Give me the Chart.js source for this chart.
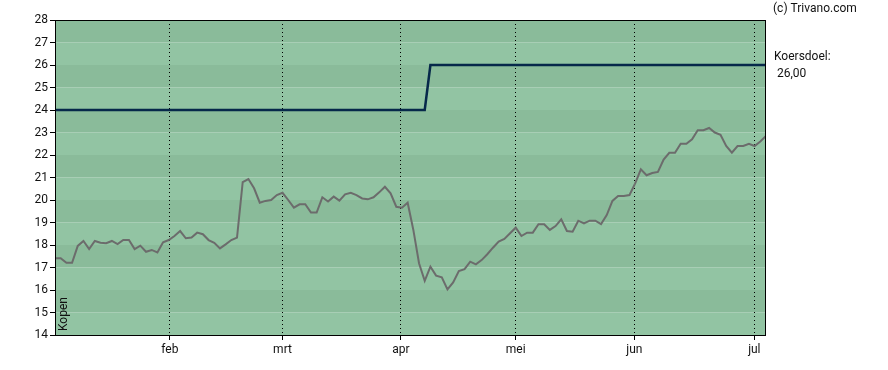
<!DOCTYPE html>
<html>
<head>
<meta charset="utf-8">
<script src="https://cdn.jsdelivr.net/npm/chart.js@4/dist/chart.umd.min.js"></script>
<style>
  body { margin: 0; background: #fff; }
  #wrap { position: relative; width: 888px; height: 370px; }
</style>
</head>
<body>
<div id="wrap"><canvas id="chart"></canvas></div>
<script>
// slotkoers per handelsdag
const prices = [
  17.41, 17.41, 17.21, 17.21, 17.96, 18.18, 17.82, 18.18, 18.10, 18.08,
  18.18, 18.04, 18.22, 18.22, 17.82, 17.97, 17.70, 17.78, 17.67, 18.12,
  18.22, 18.40, 18.62, 18.30, 18.33, 18.55, 18.48, 18.22, 18.10, 17.85,
  18.03, 18.22, 18.33, 20.79, 20.93, 20.52, 19.88, 19.96, 20.00, 20.22,
  20.32, 20.00, 19.66, 19.81, 19.81, 19.44, 19.44, 20.12, 19.93, 20.15,
  19.97, 20.25, 20.32, 20.22, 20.07, 20.03, 20.12, 20.34, 20.59, 20.30,
  19.70, 19.66, 19.88, 18.67, 17.19, 16.41, 17.04, 16.64, 16.56, 16.03,
  16.34, 16.84, 16.93, 17.26, 17.14, 17.33, 17.59, 17.88, 18.15, 18.27,
  18.52, 18.77, 18.40, 18.55, 18.55, 18.92, 18.92, 18.67, 18.84, 19.14,
  18.62, 18.59, 19.08, 18.96, 19.08, 19.08, 18.93, 19.33, 19.96, 20.18,
  20.18, 20.22, 20.74, 21.36, 21.10, 21.20, 21.25, 21.80, 22.10, 22.10,
  22.50, 22.50, 22.70, 23.10, 23.10, 23.20, 23.00, 22.90, 22.40, 22.10,
  22.40, 22.40, 22.50, 22.40, 22.60, 22.85
];

// koersdoel (stap in april)
const targetDays = [0, 65, 66, 125];
const targetValues = [24, 24, 26, 26];

// maandgrenzen op de handelsdag-as
const monthDays = [20.2, 40.0, 60.8, 81.0, 101.85, 122.95];
const monthLabels = ['feb', 'mrt', 'apr', 'mei', 'jun', 'jul'];

const yMin = 14;
const yMax = 28;

const adviceText = 'Kopen';
const sourceText = '(c) Trivano.com';
const targetTitle = 'Koersdoel:';
const targetText = '26,00';

Chart.defaults.font.family = 'Roboto, "Liberation Sans", sans-serif';
Chart.defaults.font.size = 12;
Chart.defaults.color = '#111';

const decor = {
  id: 'decor',
  beforeDraw(chart) {
    const { ctx, chartArea: a, scales: { y } } = chart;
    ctx.save();
    for (let v = yMin; v < yMax; v++) {
      const top = y.getPixelForValue(v + 1);
      const bottom = y.getPixelForValue(v);
      ctx.fillStyle = (v + 1) % 2 === 0 ? '#8abb9a' : '#92c4a3';
      ctx.fillRect(a.left, top, a.right - a.left, bottom - top);
    }
    ctx.restore();
  },
  afterDraw(chart) {
    const { ctx, chartArea: a } = chart;
    ctx.save();
    ctx.strokeStyle = '#000';
    ctx.lineWidth = 1;
    ctx.strokeRect(a.left + 0.5, a.top + 0.5, a.right - a.left - 1, a.bottom - a.top);

    ctx.fillStyle = '#111';
    ctx.font = '12px Roboto, "Liberation Sans", sans-serif';
    ctx.textBaseline = 'middle';
    ctx.textAlign = 'left';
    ctx.fillText(sourceText, a.right + 7, 9);
    ctx.fillText(targetTitle, a.right + 8, 57);
    ctx.fillText(targetText, a.right + 11, 74);

    ctx.translate(a.left + 9, a.bottom - 4);
    ctx.rotate(-Math.PI / 2);
    ctx.fillText(adviceText, 0, 0);
    ctx.restore();
  }
};

new Chart(document.getElementById('chart'), {
  type: 'line',
  data: {
    datasets: [
      {
        label: 'Koersdoel',
        data: targetDays.map((d, i) => ({ x: d, y: targetValues[i] })),
        borderColor: '#06284a',
        borderWidth: 2.5,
        pointRadius: 0,
        tension: 0
      },
      {
        label: 'Koers',
        data: prices.map((p, i) => ({ x: i, y: p })),
        borderColor: '#6c6c6c',
        borderWidth: 2,
        pointRadius: 0,
        tension: 0
      }
    ]
  },
  options: {
    responsive: true,
    maintainAspectRatio: false,
    animation: false,
    layout: { padding: { left: 0, top: 20, right: 122, bottom: 0 } },
    plugins: {
      legend: { display: false },
      tooltip: { enabled: false }
    },
    scales: {
      x: {
        type: 'linear',
        min: 0,
        max: prices.length - 1,
        afterBuildTicks: (scale) => {
          scale.ticks = monthDays.map(v => ({ value: v }));
        },
        afterFit: (scale) => { scale.height = 35; },
        ticks: {
          autoSkip: false,
          maxRotation: 0,
          padding: 3,
          callback: (value, index) => monthLabels[index]
        },
        grid: {
          color: '#000',
          tickColor: '#000',
          tickLength: 5,
          lineWidth: 1
        },
        border: { display: false, dash: [1, 3] }
      },
      y: {
        min: yMin,
        max: yMax,
        afterFit: (scale) => { scale.width = 55; },
        ticks: { stepSize: 1, padding: 2 },
        grid: {
          drawOnChartArea: false,
          tickColor: '#000',
          tickLength: 5
        },
        border: { display: false }
      }
    }
  },
  plugins: [decor]
});
</script>
</body>
</html>
